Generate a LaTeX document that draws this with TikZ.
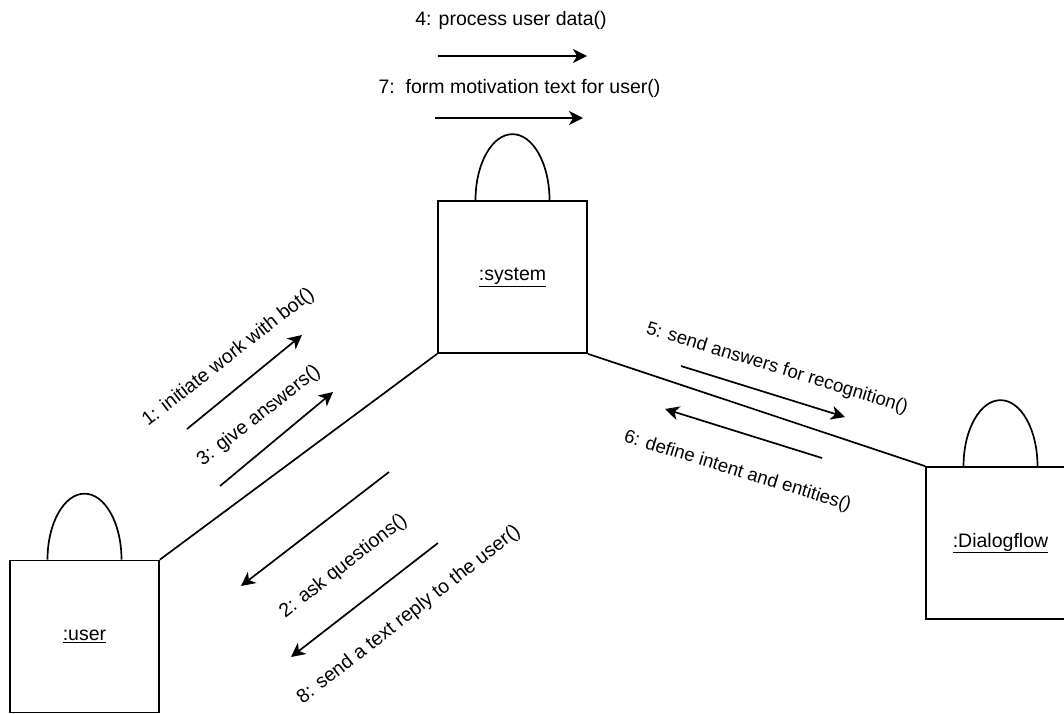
\documentclass[tikz,border=0pt]{standalone}
\usepackage{fontspec}
\setmainfont{Liberation Sans}
\usetikzlibrary{arrows.meta,calc}
\begin{document}
\begin{tikzpicture}[x=1pt,y=-1pt,
  every node/.style={font=\fontsize{19.5}{23}\selectfont},
  obj/.style={draw, line width=1.7pt, minimum width=149pt, minimum height=152pt, inner sep=0pt, fill=white},
  arch/.style={line width=1.7pt},
  link/.style={line width=1.7pt},
  msg/.style={line width=1.7pt, -{Stealth[length=14pt,width=14pt,inset=4pt]}},
  lbl/.style={inner sep=0pt},
  slbl/.style={inner sep=0pt, font=\fontsize{18.6}{22}\selectfont}]
\useasboundingbox (0,0) rectangle (1064,713);
\clip (0,0) rectangle (1064,713);
\fill[white] (0,0) rectangle (1064,713);

% objects
\node[obj] (sys) at (512.5,277) {\underline{:system}};
\node[obj] (usr) at (84.5,636.5) {\underline{:user}};
\node[obj] (dlg) at (1000.5,543) {\underline{:Dialogflow}};

% handles
\draw[arch] ($(sys.north)+(-37,0)$) arc[start angle=180,end angle=360,x radius=37,y radius=66];
\draw[arch] ($(usr.north)+(-37,0)$) arc[start angle=180,end angle=360,x radius=37,y radius=66];
\draw[arch] ($(dlg.north)+(-37,0)$) arc[start angle=180,end angle=360,x radius=37,y radius=66];

% links
\draw[link] (usr.north east) -- (sys.south west);
\draw[link] (sys.south east) -- (dlg.north west);

% message arrow ends
\coordinate (m4a) at (438,56);  \coordinate (m4b) at (587,56);
\coordinate (m7a) at (435,118); \coordinate (m7b) at (583,118);
\coordinate (m1a) at (187,429); \coordinate (m1b) at (302,335);
\coordinate (m3a) at (220,486); \coordinate (m3b) at (333,392);
\coordinate (m2a) at (389,472); \coordinate (m2b) at (241,586);
\coordinate (m8a) at (438,543); \coordinate (m8b) at (291,657);
\coordinate (m5a) at (681,366); \coordinate (m5b) at (845,417);
\coordinate (m6a) at (822,458); \coordinate (m6b) at (665,409);

\foreach \m in {4,7,1,3,2,8,5,6} { \draw[msg] (m\m a) -- (m\m b); }

% labels
\node[lbl] (t4) at (511,20) {4: process user data()};
\node[lbl] (t7) at (519.5,88) {7:\ \ form motivation text for user()};
\node[lbl,rotate=38] (t1) at (228.5,357.5) {1: initiate work with bot()};
\node[lbl,rotate=38] (t3) at (259,416) {3: give answers()};
\node[lbl,rotate=38] (t2) at (343.5,566.5) {2: ask questions()};
\node[lbl,rotate=38] (t8) at (409,615) {8: send a text reply to the user()};
\node[slbl,rotate=-17] (t5) at (777,368.5) {5: send answers for recognition()};
\node[slbl,rotate=-17] (t6) at (737.5,471.5) {6: define intent and entities()};
\end{tikzpicture}
\end{document}
